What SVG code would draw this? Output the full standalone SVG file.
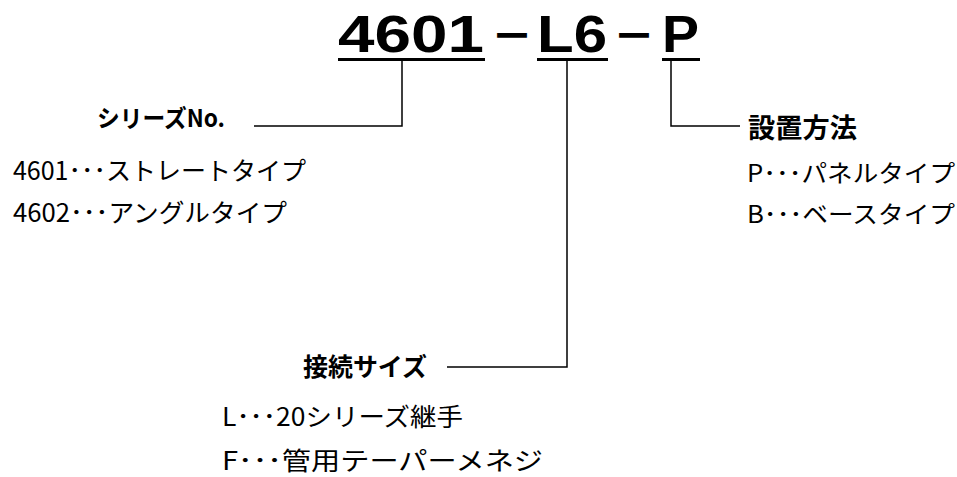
<svg xmlns="http://www.w3.org/2000/svg" width="957" height="477" viewBox="0 0 957 477">
<style>
text{fill:#000;font-family:"Noto Sans CJK JP","Liberation Sans",sans-serif}
.title{font-family:"Liberation Sans","Noto Sans CJK JP",sans-serif;font-weight:bold;font-size:52px}
.dash{font-family:"Noto Sans CJK JP",sans-serif;font-weight:bold;font-size:46px}
.head{font-weight:bold}
.ul{stroke:#000;stroke-width:3;fill:none}
.conn{stroke:#000;stroke-width:1.5;fill:none}
</style>
<rect width="957" height="477" fill="#fff"/>
<g id="title">
<text class="title" y="52"><tspan x="338" textLength="146" lengthAdjust="spacingAndGlyphs">4601</tspan><tspan class="dash" x="491" textLength="42" lengthAdjust="spacingAndGlyphs">－</tspan><tspan x="537" textLength="70" lengthAdjust="spacingAndGlyphs">L6</tspan><tspan class="dash" x="613" textLength="42" lengthAdjust="spacingAndGlyphs">－</tspan><tspan x="662" textLength="37" lengthAdjust="spacingAndGlyphs">P</tspan></text>
<line class="ul" x1="338" y1="59.5" x2="485" y2="59.5"/>
<line class="ul" x1="537" y1="59.5" x2="608" y2="59.5"/>
<line class="ul" x1="662" y1="59.5" x2="700" y2="59.5"/>
</g>
<g id="connectors">
<polyline class="conn" points="402,61 402,126 254,126"/>
<polyline class="conn" points="567,61 567,367 447,367"/>
<polyline class="conn" points="671,61 671,126 740,126"/>
</g>
<g id="series">
<text class="head" x="97" y="127" font-size="24" textLength="128" lengthAdjust="spacingAndGlyphs">シリーズNo.</text>
<text x="13" y="180" font-size="25" textLength="293" lengthAdjust="spacingAndGlyphs">4601･･･ストレートタイプ</text>
<text x="13" y="222" font-size="25" textLength="274" lengthAdjust="spacingAndGlyphs">4602･･･アングルタイプ</text>
</g>
<g id="mount">
<text class="head" x="748" y="138" font-size="27" textLength="109" lengthAdjust="spacingAndGlyphs">設置方法</text>
<text x="747" y="182" font-size="24" textLength="208" lengthAdjust="spacingAndGlyphs">P･･･パネルタイプ</text>
<text x="747" y="223" font-size="24" textLength="208" lengthAdjust="spacingAndGlyphs">B･･･ベースタイプ</text>
</g>
<g id="size">
<text class="head" x="303" y="376" font-size="25" textLength="124" lengthAdjust="spacingAndGlyphs">接続サイズ</text>
<text x="222" y="426" font-size="25" textLength="241" lengthAdjust="spacingAndGlyphs">L･･･20シリーズ継手</text>
<text x="222" y="470" font-size="25" textLength="321" lengthAdjust="spacingAndGlyphs">F･･･管用テーパーメネジ</text>
</g>
</svg>
